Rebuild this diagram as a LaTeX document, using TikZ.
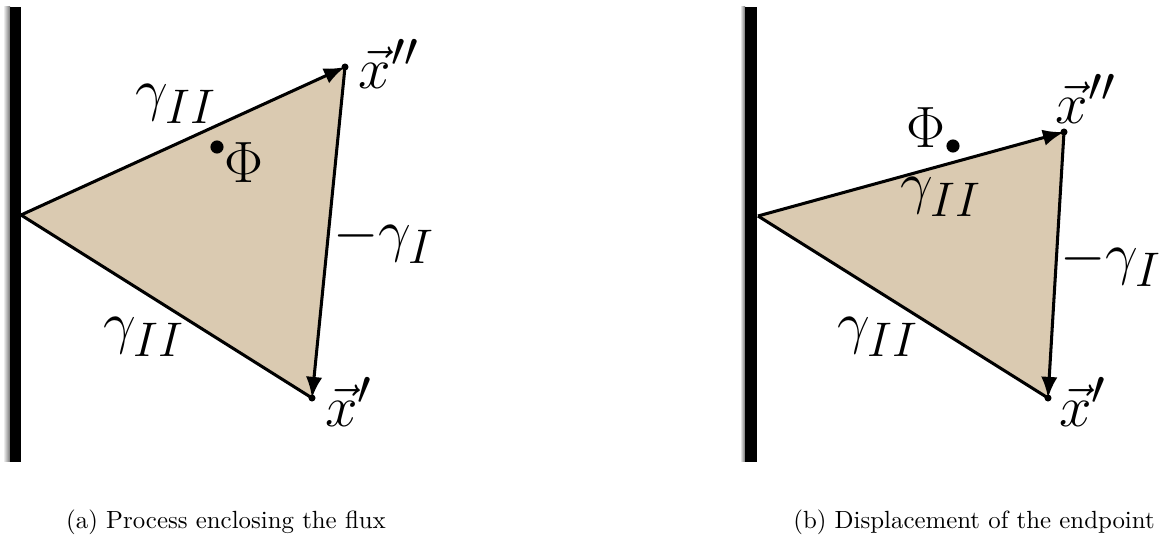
\documentclass[tikz,border=0pt]{standalone}
\usepackage{amsmath}
\usepackage{xcolor}
\usetikzlibrary{arrows.meta}

\definecolor{sandfill}{RGB}{218,202,177}

\begin{document}
\begin{tikzpicture}[
    x=0.015cm, y=-0.015cm,
    wall/.style={
        fill=black
    },
    wallshade/.style={
        left color=white,
        right color=black!55,
        draw=none
    },
    patch/.style={
        fill=sandfill
    },
    edge/.style={
        draw=black,
        line width=1.3pt,
        line join=round
    },
    flow/.style={
        edge,
        -{Latex[length=9pt,width=7pt]}
    },
    vertexdot/.style={
        fill=black
    },
    lbl/.style={
        font=\Huge,
        inner sep=0pt
    },
    caption/.style={
        font=\fontsize{10.6}{13}\selectfont,
        inner sep=0pt
    }
]
\useasboundingbox (0,0) rectangle (1164,541);

% --- Left panel: walls
\fill[wallshade] (3,7) rectangle (10,462);
\fill[wall] (10,7) rectangle (21,462);

% --- Left panel: corners
\coordinate (apexA) at (21,215);
\coordinate (topA) at (345,67);
\coordinate (botA) at (312,398);
\coordinate (fluxA) at (217,147);

\fill[patch] (apexA) -- (topA) -- (botA) -- cycle;
\draw[flow] (apexA) -- (topA);
\draw[flow] (topA) -- (botA);
\draw[edge] (botA) -- (apexA);
\fill[vertexdot] (topA) circle[radius=1.5pt];
\fill[vertexdot] (botA) circle[radius=1.5pt];
\fill[vertexdot] (fluxA) circle[radius=2.8pt];

% --- Left panel: labels
\node[lbl] (phiA) at (244,163) {$\Phi$};
\node[lbl] (upperA) at (176,104) {$\gamma_{II}$};
\node[lbl] (lowerA) at (144,337) {$\gamma_{II}$};
\node[lbl] (backA) at (384,240) {$-\gamma_I$};
\node[lbl] (endA) at (389,64) {$\vec{x}''$};
\node[lbl] (startA) at (349,402) {$\vec{x}'$};

% --- Right panel: walls
\fill[wallshade] (740,7) rectangle (745,462);
\fill[wall] (745,7) rectangle (757,462);

% --- Right panel: corners
\coordinate (apexB) at (758,216);
\coordinate (topB) at (1064,132);
\coordinate (botB) at (1048,398);
\coordinate (fluxB) at (953,146);

\fill[patch] (apexB) -- (topB) -- (botB) -- cycle;
\draw[flow] (apexB) -- (topB);
\draw[flow] (topB) -- (botB);
\draw[edge] (botB) -- (apexB);
\fill[vertexdot] (topB) circle[radius=1.5pt];
\fill[vertexdot] (botB) circle[radius=1.5pt];
\fill[vertexdot] (fluxB) circle[radius=2.8pt];

% --- Right panel: labels
\node[lbl] (phiB) at (926,128) {$\Phi$};
\node[lbl] (upperB) at (941,197) {$\gamma_{II}$};
\node[lbl] (lowerB) at (878,337) {$\gamma_{II}$};
\node[lbl] (backB) at (1111,263) {$-\gamma_I$};
\node[lbl] (endB) at (1086,99) {$\vec{x}''$};
\node[lbl] (startB) at (1083,402) {$\vec{x}'$};

% --- Captions
\node[caption] (capA) at (226,522) {(a) Process enclosing the flux};
\node[caption] (capB) at (974,522) {(b) Displacement of the endpoint};

\end{tikzpicture}
\end{document}
